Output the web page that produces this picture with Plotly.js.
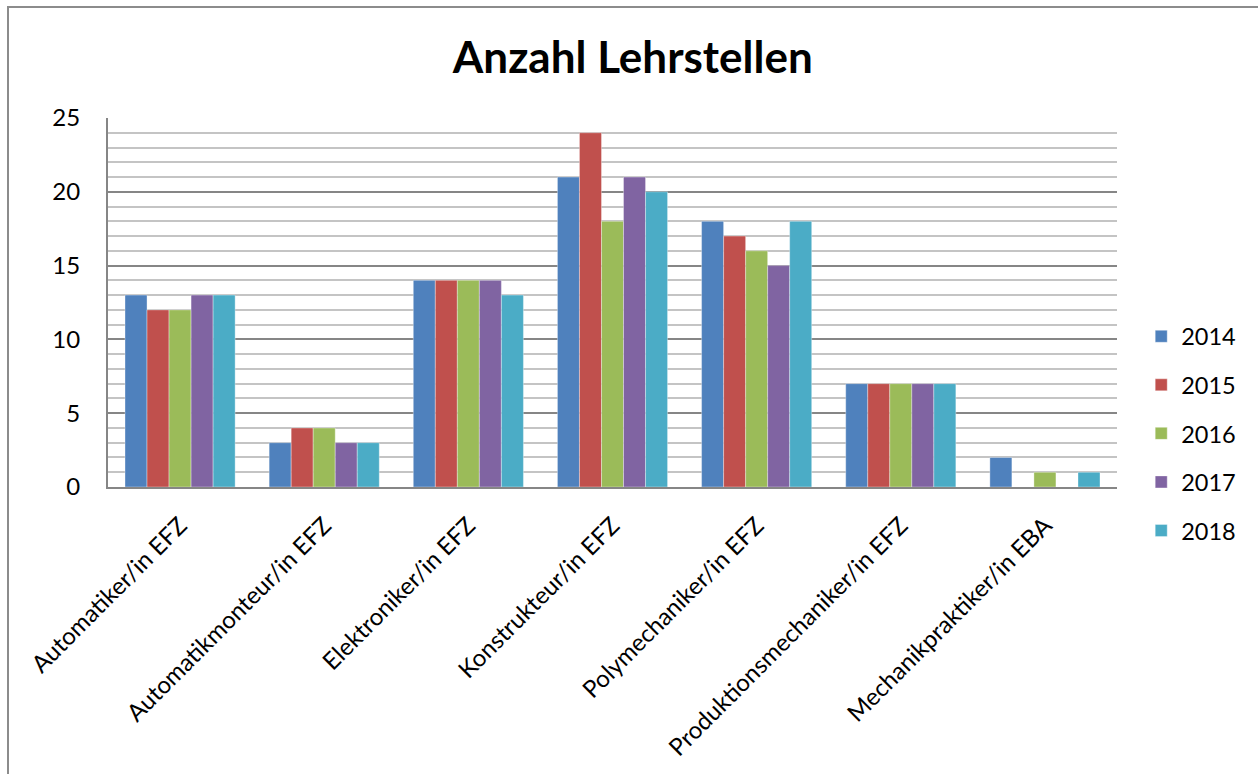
<!DOCTYPE html>
<html>
<head>
<meta charset="utf-8">
<script src="https://cdn.plot.ly/plotly-3.0.1.min.js"></script>
<style>
html,body{margin:0;padding:0;background:#fff;}
#frame{position:absolute;left:7px;top:6px;width:1251px;height:768px;border-left:2px solid #8c8c8c;border-top:2px solid #8c8c8c;box-sizing:border-box;}
#chart{position:absolute;left:0;top:0;width:1258px;height:774px;}
</style>
</head>
<body>
<div id="chart"></div>
<div id="frame"></div>
<script>
var categories = ["Automatiker/in EFZ","Automatikmonteur/in EFZ","Elektroniker/in EFZ","Konstrukteur/in EFZ","Polymechaniker/in EFZ","Produktionsmechaniker/in EFZ","Mechanikpraktiker/in EBA"];
var years = ["2014","2015","2016","2017","2018"];
var v2014 = [13,3,14,21,18,7,2];
var v2015 = [12,4,14,24,17,7,0];
var v2016 = [12,4,14,18,16,7,1];
var v2017 = [13,3,14,21,15,7,0];
var v2018 = [13,3,13,20,18,7,1];
var series = [v2014,v2015,v2016,v2017,v2018];
var colors = ["#4F81BD","#C0504D","#9BBB59","#8064A2","#4BACC6"];

var font = "Lato, 'Open Sans', 'Liberation Sans', sans-serif";
var traces = series.map(function(vals,i){
  return {
    type:'bar', x:categories, y:vals, name:years[i],
    legendgroup:'g'+i,
    marker:{color:colors[i], line:{color:'rgba(255,255,255,0.35)', width:1}},
    hoverinfo:'x+y+name'
  };
});

var layout = {
  width:1258, height:774,
  margin:{l:108, r:141, t:118, b:287, pad:0},
  paper_bgcolor:'#ffffff', plot_bgcolor:'#ffffff',
  barmode:'group', bargap:0.236, bargroupgap:0,
  title:{text:'<b>Anzahl Lehrstellen</b>', x:0.503, xanchor:'center', y:0.925, yanchor:'middle',
         font:{family:font, size:44, color:'#000'}},
  font:{family:font, color:'#000'},
  xaxis:{
    type:'category', tickangle:-45, showline:true, linecolor:'#868686', linewidth:2,
    ticks:'outside', ticklen:13, tickcolor:'rgba(0,0,0,0)', showgrid:false,
    tickfont:{family:font, size:24, color:'#000'}, fixedrange:true
  },
  yaxis:{
    range:[0,25], dtick:5, tick0:0, showline:true, linecolor:'#868686', linewidth:2,
    showgrid:true, gridcolor:'#868686', gridwidth:1.5, zeroline:false,
    ticks:'outside', ticklen:21, tickcolor:'rgba(0,0,0,0)',
    tickfont:{family:font, size:24, color:'#000'},
    minor:{dtick:1, showgrid:true, gridcolor:'#c4c4c4', gridwidth:1.5},
    fixedrange:true
  },
  legend:{x:1.024, xanchor:'left', y:0.145, yanchor:'middle', traceorder:'grouped',
          tracegroupgap:15, font:{family:font, size:23.5, color:'#000'}, bgcolor:'rgba(0,0,0,0)'},
  showlegend:true
};

Plotly.newPlot('chart', traces, layout, {displayModeBar:false, staticPlot:false});
</script>
</body>
</html>
